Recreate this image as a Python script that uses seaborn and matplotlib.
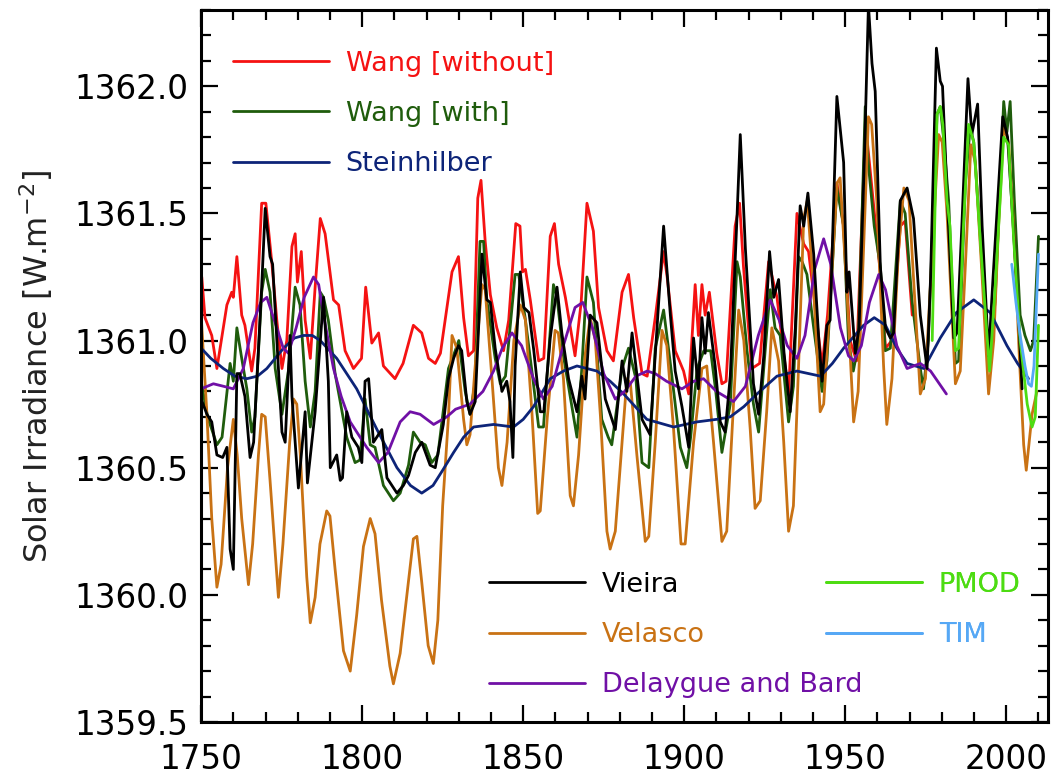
import matplotlib
matplotlib.use('Agg')
import matplotlib.pyplot as plt
from matplotlib.lines import Line2D
from matplotlib.ticker import MultipleLocator
import seaborn as sns

# Wang et al. without background trend
wang_wo_year = [1750.2, 1751.2, 1753.3, 1754.9, 1758.0, 1759.5, 1760.0, 1761.1, 1762.6, 1763.6,
                1765.7, 1766.7, 1768.8, 1770.1, 1772.0, 1773.5, 1775.1, 1776.6, 1778.2, 1779.2,
                1779.9, 1781.1, 1782.3, 1783.9, 1785.4, 1787.0, 1788.5, 1791.1, 1792.7, 1794.7,
                1797.3, 1799.8, 1801.1, 1803.0, 1805.1, 1806.6, 1810.2, 1812.7, 1815.9, 1818.5,
                1820.6, 1822.7, 1824.3, 1827.9, 1829.9, 1831.5, 1833.0, 1834.6, 1835.9, 1836.9,
                1838.2, 1839.8, 1841.8, 1843.9, 1845.5, 1847.7, 1849.0, 1849.8, 1850.7, 1852.2,
                1854.8, 1856.4, 1858.4, 1859.7, 1861.0, 1863.1, 1866.1, 1868.0, 1869.8, 1871.8,
                1873.4, 1876.0, 1878.0, 1880.7, 1882.7, 1884.3, 1886.9, 1888.5, 1891.0, 1893.6,
                1894.7, 1897.2, 1899.8, 1901.4, 1903.4, 1904.4, 1905.5, 1906.5, 1907.8, 1910.1,
                1911.7, 1913.0, 1915.8, 1917.2, 1918.4, 1921.0, 1923.4, 1926.2, 1928.8, 1932.4,
                1935.0, 1937.1, 1938.6, 1940.5, 1942.8, 1944.5, 1947.4, 1949.5, 1951.5, 1953.5,
                1956.3, 1957.5, 1961.0, 1962.5, 1964.5, 1967.1, 1968.6, 1970.2, 1970.8]
wang_wo_tsi = [1361.25, 1361.09, 1361.02, 1360.89, 1361.14, 1361.19, 1361.17, 1361.33, 1361.10, 1361.06,
               1360.88, 1360.97, 1361.54, 1361.54, 1361.30, 1361.08, 1360.89, 1361.00, 1361.37, 1361.42,
               1361.23, 1361.35, 1361.08, 1360.93, 1361.21, 1361.48, 1361.42, 1361.16, 1361.14, 1360.96,
               1360.89, 1360.93, 1361.21, 1360.99, 1361.03, 1360.90, 1360.85, 1360.91, 1361.06, 1361.03,
               1360.93, 1360.91, 1360.95, 1361.27, 1361.33, 1361.09, 1360.94, 1360.96, 1361.56, 1361.63,
               1361.39, 1361.18, 1361.05, 1360.96, 1361.08, 1361.46, 1361.45, 1361.27, 1361.28, 1361.16,
               1360.92, 1360.93, 1361.41, 1361.46, 1361.30, 1361.17, 1360.94, 1361.15, 1361.54, 1361.43,
               1361.13, 1360.96, 1360.92, 1361.19, 1361.26, 1361.09, 1360.87, 1360.86, 1361.09, 1361.35,
               1361.25, 1360.96, 1360.88, 1360.79, 1361.22, 1361.02, 1361.22, 1361.10, 1361.19, 1360.95,
               1360.83, 1360.84, 1361.45, 1361.54, 1361.29, 1360.89, 1360.91, 1361.31, 1361.17, 1360.79,
               1361.50, 1361.38, 1361.35, 1361.15, 1360.90, 1361.10, 1361.62, 1361.45, 1361.00, 1360.92,
               1361.85, 1361.70, 1361.25, 1360.97, 1361.00, 1361.45, 1361.47, 1361.20, 1361.10]

# Wang et al. with background trend
wang_w_year = [1750.0, 1752.0, 1754.9, 1756.5, 1759.0, 1760.0, 1761.1, 1762.6, 1764.2, 1765.7,
               1766.7, 1768.8, 1769.9, 1771.4, 1773.0, 1775.1, 1777.2, 1779.2, 1780.7, 1782.3,
               1783.9, 1785.4, 1787.0, 1788.0, 1789.5, 1791.6, 1795.2, 1797.8, 1799.3, 1800.9,
               1802.5, 1804.0, 1806.6, 1809.7, 1811.8, 1814.4, 1815.9, 1818.0, 1819.6, 1821.6,
               1823.5, 1826.8, 1828.9, 1830.0, 1832.0, 1833.5, 1835.0, 1836.6, 1837.7, 1838.7,
               1841.3, 1842.9, 1844.5, 1847.5, 1848.6, 1850.6, 1853.0, 1854.8, 1856.3, 1859.4,
               1860.5, 1862.5, 1866.7, 1868.2, 1869.8, 1871.8, 1874.4, 1876.4, 1877.5, 1880.7,
               1882.7, 1885.0, 1886.9, 1889.0, 1891.0, 1893.6, 1895.6, 1898.8, 1900.8, 1902.0,
               1904.0, 1906.1, 1908.2, 1909.8, 1911.7, 1914.3, 1916.4, 1917.4, 1919.5, 1921.5,
               1923.1, 1925.7, 1926.7, 1928.2, 1929.8, 1932.4, 1933.9, 1935.5, 1936.6, 1938.1,
               1940.2, 1942.8, 1944.3, 1947.4, 1949.5, 1951.0, 1952.5, 1954.0, 1956.2, 1957.2,
               1959.0, 1960.9, 1962.4, 1964.0, 1967.1, 1968.6, 1970.7, 1973.3, 1974.3, 1975.8,
               1978.5, 1979.5, 1980.5, 1982.1, 1984.2, 1985.2, 1987.3, 1988.8, 1989.9, 1991.9,
               1994.5, 1996.5, 1999.2, 2000.2, 2001.2, 2002.5, 2004.3, 2005.8, 2007.5, 2008.5,
               2010.0]
wang_w_tsi = [1360.84, 1360.70, 1360.59, 1360.62, 1360.91, 1360.84, 1361.05, 1360.93, 1360.81, 1360.64,
              1360.70, 1361.19, 1361.28, 1361.19, 1360.89, 1360.71, 1360.89, 1361.21, 1361.14, 1360.84,
              1360.66, 1360.80, 1361.19, 1361.17, 1361.08, 1360.87, 1360.62, 1360.52, 1360.53, 1360.77,
              1360.59, 1360.58, 1360.43, 1360.37, 1360.40, 1360.51, 1360.64, 1360.60, 1360.59, 1360.52,
              1360.55, 1360.89, 1360.96, 1361.00, 1360.80, 1360.71, 1360.83, 1361.39, 1361.39, 1361.16,
              1360.93, 1360.83, 1360.86, 1361.26, 1361.26, 1361.09, 1360.85, 1360.66, 1360.66, 1361.22,
              1361.17, 1360.94, 1360.62, 1360.89, 1361.25, 1361.15, 1360.69, 1360.62, 1360.59, 1360.89,
              1360.97, 1360.85, 1360.52, 1360.50, 1360.97, 1361.12, 1360.92, 1360.58, 1360.50, 1360.62,
              1360.89, 1360.96, 1360.96, 1360.80, 1360.56, 1360.75, 1361.31, 1361.25, 1360.96, 1360.75,
              1360.64, 1361.05, 1361.20, 1361.05, 1361.02, 1360.68, 1360.82, 1361.33, 1361.31, 1361.26,
              1361.05, 1360.80, 1360.92, 1361.60, 1361.45, 1361.00, 1360.88, 1360.98, 1361.92, 1361.69,
              1361.45, 1361.29, 1360.96, 1360.97, 1361.55, 1361.50, 1361.16, 1360.89, 1360.81, 1361.00,
              1361.89, 1361.92, 1361.80, 1361.55, 1360.91, 1360.92, 1361.62, 1361.84, 1361.78, 1361.42,
              1360.89, 1361.15, 1361.94, 1361.82, 1361.94, 1361.55, 1361.10, 1361.02, 1360.96, 1361.00,
              1361.41]

# Steinhilber et al.
stein_year = [1750.0, 1753.0, 1756.9, 1760.5, 1764.2, 1767.5, 1770.4, 1775.6, 1779.0, 1781.8,
              1784.5, 1787.0, 1792.1, 1798.3, 1804.6, 1810.8, 1815.0, 1818.5, 1822.0, 1825.0,
              1828.4, 1831.5, 1834.6, 1840.8, 1847.0, 1850.0, 1853.2, 1858.4, 1862.5, 1866.7,
              1872.9, 1877.0, 1881.2, 1888.4, 1896.7, 1903.9, 1910.0, 1914.3, 1918.5, 1922.6,
              1928.8, 1935.0, 1942.3, 1946.0, 1949.5, 1955.7, 1959.0, 1962.5, 1966.0, 1969.2,
              1974.4, 1979.5, 1984.5, 1989.9, 1995.0, 2000.2, 2003.5, 2006.9]
stein_tsi = [1360.97, 1360.93, 1360.89, 1360.86, 1360.85, 1360.86, 1360.89, 1360.97, 1361.01, 1361.02,
             1361.02, 1361.00, 1360.93, 1360.81, 1360.65, 1360.50, 1360.43, 1360.40, 1360.43, 1360.49,
             1360.56, 1360.62, 1360.66, 1360.67, 1360.66, 1360.69, 1360.74, 1360.85, 1360.88, 1360.90,
             1360.88, 1360.84, 1360.79, 1360.69, 1360.66, 1360.68, 1360.69, 1360.70, 1360.74, 1360.79,
             1360.86, 1360.88, 1360.86, 1360.91, 1360.97, 1361.06, 1361.09, 1361.06, 1360.97, 1360.91,
             1360.89, 1361.01, 1361.11, 1361.16, 1361.11, 1360.98, 1360.91, 1360.85]

# Velasco et al.
velasco_year = [1750.0, 1751.8, 1753.3, 1754.9, 1756.2, 1758.2, 1760.0, 1761.2, 1762.6, 1764.7,
                1766.0, 1767.8, 1768.8, 1769.9, 1771.4, 1774.0, 1775.4, 1777.5, 1778.7, 1779.7,
                1780.8, 1782.8, 1783.9, 1785.4, 1786.9, 1789.0, 1790.0, 1791.6, 1794.2, 1796.3,
                1798.3, 1800.4, 1802.5, 1804.0, 1806.0, 1808.6, 1809.7, 1811.8, 1813.9, 1815.9,
                1817.0, 1818.5, 1820.5, 1822.1, 1823.5, 1825.0, 1826.8, 1827.9, 1829.4, 1831.5,
                1832.5, 1833.5, 1835.1, 1837.2, 1838.2, 1840.3, 1842.3, 1843.4, 1845.0, 1847.1,
                1849.1, 1850.7, 1852.7, 1854.5, 1855.3, 1857.5, 1859.9, 1860.9, 1862.5, 1864.6,
                1865.6, 1867.2, 1869.3, 1870.8, 1872.4, 1874.0, 1876.0, 1877.0, 1878.6, 1880.7,
                1882.2, 1883.3, 1885.3, 1887.9, 1889.0, 1891.0, 1893.1, 1894.6, 1896.7, 1899.0,
                1900.3, 1902.9, 1905.5, 1907.0, 1909.1, 1911.7, 1913.2, 1915.3, 1916.9, 1918.5,
                1920.5, 1922.0, 1923.6, 1925.6, 1927.2, 1929.3, 1930.9, 1932.4, 1933.9, 1935.5,
                1937.1, 1938.2, 1940.2, 1942.2, 1943.3, 1945.5, 1947.5, 1948.4, 1950.5, 1952.6,
                1954.0, 1955.8, 1957.2, 1958.2, 1959.8, 1961.9, 1962.9, 1964.5, 1966.5, 1968.2,
                1969.8, 1971.4, 1973.3, 1974.9, 1977.0, 1979.0, 1980.1, 1981.6, 1984.2, 1985.7,
                1987.5, 1989.0, 1990.4, 1992.5, 1994.5, 1996.1, 1997.6, 1999.2, 2000.7, 2002.3,
                2004.0, 2005.4, 2006.2, 2008.0, 2009.5]
velasco_tsi = [1361.10, 1360.71, 1360.30, 1360.03, 1360.12, 1360.50, 1360.69, 1360.55, 1360.30, 1360.04,
               1360.20, 1360.55, 1360.71, 1360.70, 1360.45, 1359.99, 1360.20, 1360.60, 1360.77, 1360.75,
               1360.55, 1360.07, 1359.89, 1359.99, 1360.20, 1360.33, 1360.31, 1360.10, 1359.78, 1359.70,
               1359.92, 1360.19, 1360.30, 1360.24, 1359.98, 1359.72, 1359.65, 1359.77, 1360.00, 1360.22,
               1360.23, 1360.05, 1359.80, 1359.73, 1359.90, 1360.35, 1360.70, 1361.02, 1360.97, 1360.69,
               1360.59, 1360.63, 1360.90, 1361.22, 1361.20, 1360.85, 1360.50, 1360.43, 1360.60, 1361.00,
               1361.14, 1361.08, 1360.72, 1360.32, 1360.33, 1360.70, 1361.04, 1361.03, 1360.85, 1360.39,
               1360.35, 1360.55, 1360.95, 1361.09, 1361.00, 1360.70, 1360.25, 1360.18, 1360.25, 1360.60,
               1360.85, 1360.83, 1360.55, 1360.21, 1360.23, 1360.60, 1361.04, 1360.98, 1360.65, 1360.20,
               1360.20, 1360.60, 1360.89, 1360.90, 1360.60, 1360.21, 1360.25, 1360.75, 1361.12, 1361.00,
               1360.65, 1360.34, 1360.37, 1360.72, 1361.05, 1360.92, 1360.60, 1360.25, 1360.35, 1360.90,
               1361.48, 1361.55, 1361.20, 1360.72, 1360.75, 1361.20, 1361.62, 1361.64, 1361.20, 1360.68,
               1360.80, 1361.40, 1361.88, 1361.85, 1361.55, 1360.90, 1360.67, 1360.85, 1361.35, 1361.60,
               1361.55, 1361.20, 1360.79, 1360.85, 1361.35, 1361.81, 1361.78, 1361.50, 1360.83, 1360.88,
               1361.35, 1361.77, 1361.70, 1361.25, 1360.79, 1361.00, 1361.45, 1361.84, 1361.78, 1361.45,
               1360.95, 1360.59, 1360.49, 1360.71, 1360.80]

# Delaygue and Bard
delaygue_year = [1750.0, 1753.8, 1757.0, 1760.0, 1763.1, 1766.1, 1768.5, 1770.4, 1773.5, 1775.5,
                 1777.1, 1779.5, 1782.0, 1784.9, 1786.5, 1788.0, 1791.1, 1793.5, 1796.3, 1801.4,
                 1805.1, 1808.0, 1811.8, 1814.9, 1818.0, 1822.2, 1826.3, 1829.0, 1833.5, 1837.5,
                 1840.8, 1843.5, 1846.5, 1849.5, 1853.2, 1856.3, 1859.0, 1862.0, 1866.1, 1868.5,
                 1871.5, 1875.0, 1878.6, 1881.5, 1885.0, 1888.5, 1891.0, 1894.5, 1899.3, 1903.0,
                 1906.0, 1910.0, 1915.3, 1919.0, 1923.0, 1926.7, 1929.5, 1932.0, 1935.0, 1937.5,
                 1940.5, 1943.3, 1945.5, 1948.5, 1951.0, 1952.6, 1955.0, 1957.5, 1960.4, 1962.5,
                 1966.0, 1969.2, 1973.3, 1976.5, 1981.4]
delaygue_tsi = [1360.81, 1360.83, 1360.82, 1360.81, 1360.89, 1361.07, 1361.15, 1361.17, 1361.05, 1360.97,
                1360.95, 1361.05, 1361.17, 1361.25, 1361.22, 1361.10, 1360.89, 1360.78, 1360.68, 1360.58,
                1360.52, 1360.56, 1360.68, 1360.72, 1360.71, 1360.67, 1360.70, 1360.73, 1360.75, 1360.80,
                1360.88, 1360.97, 1361.03, 1360.98, 1360.85, 1360.77, 1360.82, 1360.96, 1361.13, 1361.15,
                1361.05, 1360.87, 1360.77, 1360.80, 1360.86, 1360.88, 1360.87, 1360.84, 1360.81, 1360.84,
                1360.85, 1360.80, 1360.76, 1360.82, 1361.02, 1361.16, 1361.08, 1360.98, 1360.93, 1361.02,
                1361.28, 1361.40, 1361.30, 1361.05, 1360.94, 1360.92, 1360.98, 1361.15, 1361.26, 1361.20,
                1360.98, 1360.89, 1360.91, 1360.88, 1360.79]

# Vieira et al.
vieira_year = [1750.0, 1751.8, 1753.3, 1754.9, 1756.7, 1758.0, 1759.0, 1760.0, 1761.1, 1762.0,
               1763.6, 1765.2, 1766.3, 1767.8, 1768.8, 1769.9, 1771.4, 1772.2, 1775.1, 1776.1,
               1777.6, 1778.2, 1780.2, 1782.3, 1783.0, 1785.4, 1788.0, 1789.5, 1790.1, 1792.1,
               1793.2, 1793.9, 1795.2, 1796.8, 1798.8, 1799.9, 1800.9, 1802.0, 1803.5, 1806.1,
               1807.7, 1810.8, 1812.8, 1814.4, 1816.5, 1818.5, 1821.1, 1822.7, 1825.2, 1826.8,
               1828.4, 1829.9, 1830.9, 1832.5, 1833.5, 1835.1, 1837.2, 1838.7, 1839.8, 1841.3,
               1843.4, 1844.9, 1845.9, 1846.8, 1847.5, 1849.1, 1850.2, 1851.8, 1853.3, 1855.3,
               1856.4, 1858.4, 1860.5, 1862.0, 1864.1, 1866.7, 1868.2, 1869.2, 1870.8, 1872.9,
               1875.5, 1878.6, 1880.7, 1882.2, 1883.8, 1886.9, 1889.4, 1893.6, 1895.7, 1897.2,
               1899.3, 1901.4, 1902.9, 1904.4, 1905.5, 1906.5, 1907.5, 1909.6, 1911.2, 1912.7,
               1914.3, 1916.4, 1917.4, 1919.0, 1921.5, 1923.1, 1924.7, 1926.5, 1927.8, 1929.3,
               1931.0, 1932.9, 1934.5, 1936.0, 1937.1, 1938.4, 1940.2, 1941.8, 1942.8, 1944.3,
               1945.3, 1947.4, 1949.5, 1950.5, 1951.2, 1953.1, 1954.3, 1955.9, 1957.2, 1958.3,
               1959.3, 1960.9, 1962.5, 1964.0, 1965.0, 1967.1, 1969.2, 1971.2, 1973.3, 1975.4,
               1976.5, 1978.3, 1979.5, 1980.2, 1981.6, 1983.7, 1984.7, 1986.2, 1988.1, 1989.3,
               1991.1, 1992.5, 1994.5, 1995.9, 1998.9, 2000.4, 2002.3, 2003.8, 2004.9]
vieira_tsi = [1360.77, 1360.71, 1360.68, 1360.55, 1360.54, 1360.58, 1360.18, 1360.10, 1360.87, 1360.87,
              1360.78, 1360.54, 1360.60, 1360.97, 1361.21, 1361.52, 1361.33, 1361.30, 1360.64, 1360.60,
              1361.02, 1360.78, 1360.42, 1360.72, 1360.44, 1360.72, 1361.17, 1360.84, 1360.50, 1360.55,
              1360.45, 1360.46, 1360.72, 1360.62, 1360.58, 1360.52, 1360.84, 1360.85, 1360.60, 1360.65,
              1360.46, 1360.40, 1360.43, 1360.47, 1360.56, 1360.60, 1360.51, 1360.50, 1360.67, 1360.85,
              1360.93, 1360.98, 1360.96, 1360.76, 1360.71, 1360.76, 1361.34, 1361.16, 1361.15, 1360.97,
              1360.80, 1360.84, 1360.76, 1360.54, 1360.90, 1361.27, 1361.13, 1361.11, 1360.96, 1360.72,
              1360.72, 1361.01, 1361.21, 1361.03, 1360.85, 1360.72, 1360.86, 1360.77, 1361.10, 1361.07,
              1360.77, 1360.65, 1360.92, 1360.80, 1361.03, 1360.69, 1360.63, 1361.45, 1361.10, 1360.88,
              1360.74, 1360.58, 1361.01, 1360.81, 1361.09, 1360.95, 1361.11, 1360.90, 1360.68, 1360.64,
              1360.86, 1361.49, 1361.81, 1361.36, 1360.83, 1360.71, 1360.94, 1361.35, 1361.17, 1361.24,
              1360.95, 1360.72, 1361.05, 1361.53, 1361.45, 1361.58, 1361.34, 1361.00, 1360.84, 1361.06,
              1361.08, 1361.96, 1361.70, 1361.19, 1361.27, 1360.95, 1361.05, 1361.70, 1362.32, 1362.09,
              1361.98, 1361.29, 1361.05, 1361.01, 1361.03, 1361.55, 1361.60, 1361.48, 1361.10, 1360.89,
              1361.25, 1362.15, 1362.02, 1362.00, 1361.58, 1361.01, 1361.03, 1361.45, 1362.03, 1361.81,
              1361.93, 1361.45, 1360.94, 1361.25, 1361.88, 1361.80, 1361.42, 1361.09, 1360.81]

# PMOD composite
pmod_year = [1977.0, 1978.5, 1979.5, 1980.3, 1981.6, 1982.5, 1984.2, 1985.2, 1986.7, 1988.3,
             1989.9, 1991.9, 1994.8, 1996.5, 1999.2, 2000.7, 2002.3, 2004.3, 2006.5, 2008.0,
             2009.0, 2010.0]
pmod_tsi = [1361.00, 1361.89, 1361.92, 1361.85, 1361.55, 1361.45, 1360.96, 1360.97, 1361.45, 1361.85,
            1361.78, 1361.40, 1360.88, 1361.20, 1361.80, 1361.77, 1361.40, 1361.00, 1360.75, 1360.66,
            1360.70, 1361.06]

# SORCE/TIM
tim_year = [2001.7, 2003.0, 2004.3, 2005.8, 2006.9, 2007.8, 2008.6, 2010.0]
tim_tsi = [1361.30, 1361.15, 1361.02, 1360.90, 1360.83, 1360.82, 1360.90, 1361.34]

sns.set_style('ticks')
plt.rcParams['font.family'] = ['DejaVu Sans']

fig = plt.figure(figsize=(10.53, 7.8), dpi=100)
ax = fig.add_axes([0.191, 0.0744, 0.8044, 0.9128])

series = [
    (wang_wo_year, wang_wo_tsi, '#f51212', 'Wang [without]'),
    (wang_w_year, wang_w_tsi, '#1f5c0c', 'Wang [with]'),
    (velasco_year, velasco_tsi, '#c97214', 'Velasco'),
    (stein_year, stein_tsi, '#0d2478', 'Steinhilber'),
    (delaygue_year, delaygue_tsi, '#7010a6', 'Delaygue and Bard'),
    (vieira_year, vieira_tsi, '#000000', 'Vieira'),
    (pmod_year, pmod_tsi, '#4ddc12', 'PMOD'),
    (tim_year, tim_tsi, '#56a8f5', 'TIM'),
]
colors = {}
for yrs, vals, col, name in series:
    sns.lineplot(x=yrs, y=vals, color=col, lw=2.0, sort=False, estimator=None, ax=ax)
    colors[name] = col

ax.set_xlim(1750, 2013)
ax.set_ylim(1359.5, 1362.3)
ax.xaxis.set_major_locator(MultipleLocator(50))
ax.xaxis.set_minor_locator(MultipleLocator(10))
ax.yaxis.set_major_locator(MultipleLocator(0.5))
ax.yaxis.set_minor_locator(MultipleLocator(0.1))
ax.yaxis.set_major_formatter(plt.FormatStrFormatter('%.1f'))
ax.tick_params(which='both', direction='in', top=True, right=True, width=1.6,
               color='black', labelcolor='black')
ax.tick_params(which='major', length=12)
ax.tick_params(which='minor', length=7)
ax.tick_params(axis='y', labelsize=23.5, pad=9)
ax.tick_params(axis='x', labelsize=23.5, pad=15)
for sp in ax.spines.values():
    sp.set_linewidth(2.2)
    sp.set_color('black')
    sp.set_visible(True)
ax.set_ylabel('Solar Irradiance [W.m$^{-2}$]', fontsize=23, color='#222222', labelpad=14)


def make_legend(names, anchor):
    handles = [Line2D([], [], color=colors[n], lw=2.0) for n in names]
    leg = ax.legend(handles, names, loc='upper left', bbox_to_anchor=anchor, frameon=False,
                    fontsize=19.5, handlelength=3.55, handletextpad=0.6, labelspacing=0.9,
                    borderpad=0, borderaxespad=0, labelcolor=[colors[n] for n in names])
    ax.add_artist(leg)
    return leg


make_legend(['Wang [without]', 'Wang [with]', 'Steinhilber'], (0.038, 0.943))
make_legend(['Vieira', 'Velasco', 'Delaygue and Bard'], (0.340, 0.211))
make_legend(['PMOD', 'TIM'], (0.738, 0.211))

fig.savefig('out.png', dpi=100)
